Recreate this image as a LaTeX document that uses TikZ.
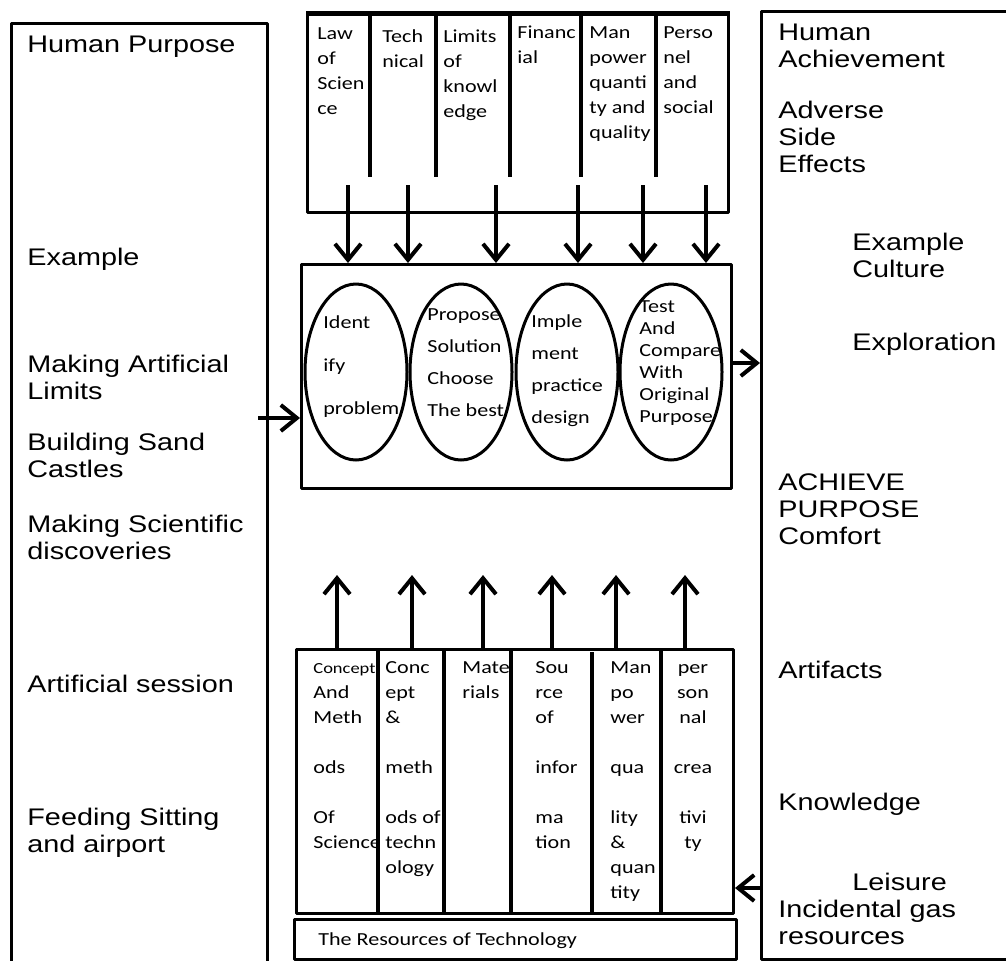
\documentclass[tikz,border=0pt]{standalone}
\usepackage{fontspec}
\setmainfont{Liberation Sans}[FakeStretch=1.2]
\newfontfamily\calfont{Carlito}[FakeStretch=1.2]
\usetikzlibrary{arrows.meta,shapes.geometric}
% rows of text hanging from the first baseline
\newcommand\txtcol[1]{\begin{tabular}[t]{@{}l@{}}#1\end{tabular}}
\newcommand\txtmid[1]{\begin{tabular}[t]{@{}c@{}}#1\end{tabular}}
\begin{document}
\begin{tikzpicture}[x=0.5pt,y=-0.5pt,line join=round,
	frame/.style={draw,line width=1.5pt,inner sep=0pt,anchor=north west},
	sidetext/.style={font=\fontsize{12}{13.5}\selectfont,anchor=base west,inner sep=0pt},
	celltext/.style={font=\calfont\fontsize{9.2}{#1}\selectfont,anchor=base west,inner sep=0pt},
	celltext/.default=12.5,
	arr/.style={line width=2pt,-{Straight Barb[length=8pt,width=13pt,line width=2pt]}},
	oval/.style={ellipse,draw,line width=1.5pt,minimum width=51pt,minimum height=88pt,inner sep=0pt}]
	\useasboundingbox (0,0) rectangle (1006,960);
	% outer frames
	\node[frame,minimum width=128pt,minimum height=490pt] (purpose) at (10,22) {};
	\node[frame,minimum width=130pt,minimum height=474pt] (achieve) at (760,10) {};
	% top box: limits
	\node[frame,minimum width=210.5pt,minimum height=99pt] (limits) at (306,13) {};
	\draw[line width=2.5pt] (limits.north west) -- ++(424,0);
	\foreach \x in {370,436,510,581,656}
		\draw[line width=2pt] (\x,13) -- (\x,177);
	\path (317,39) node[celltext] {\txtcol{Law\\of\\Scien\\ce}};
	\path (382,42) node[celltext] {\txtcol{Tech\\nical}};
	\path (443,42) node[celltext] {\txtcol{Limits\\of\\knowl\\edge}};
	\path (517,38) node[celltext] {\txtcol{Financ\\ial}};
	\path (589,38) node[celltext] {\txtcol{Man\\power\\quanti\\ty and\\quality}};
	\path (663,38) node[celltext] {\txtcol{Perso\\nel\\and\\social}};
	% middle box: steps
	\node[frame,minimum width=215pt,minimum height=112pt] (steps) at (300,263) {};
	\node[oval] (e1) at (356,372) {};
	\node[oval] (e2) at (461,372) {};
	\node[oval] (e3) at (567,372) {};
	\node[oval] (e4) at (671,372) {};
	\path (323,328) node[celltext=21.5] {\txtcol{Ident\\ify\\problem}};
	\path (427,320) node[celltext=16] {\txtcol{Propose\\Solution\\Choose\\The best}};
	\path (531,327) node[celltext=16] {\txtcol{Imple\\ment\\practice\\design}};
	\path (639,312) node[celltext=11] {\txtcol{Test\\And\\Compare\\With\\Original\\Purpose}};
	% bottom box: resources
	\node[frame,minimum width=218.5pt,minimum height=132pt] (resources) at (295,648) {};
	\foreach \x in {378,444,511,661}
		\draw[line width=2pt] (\x,648) -- (\x,912);
	\draw[line width=2pt] (592,652) -- (592,912);
	\path (313,673) node[celltext] {\txtcol{{\fontsize{7.7}{12.5}\selectfont Concept}\\And\\Meth\\~\\ods\\~\\Of\\Science}};
	\path (385,673) node[celltext] {\txtcol{Conc\\ept\\\&\\~\\meth\\~\\ods of\\techn\\ology}};
	\path (462,673) node[celltext] {\txtcol{Mate\\rials}};
	\path (535,673) node[celltext] {\txtcol{Sou\\rce\\of\\~\\infor\\~\\ma\\tion}};
	\path (610,673) node[celltext] {\txtcol{Man\\po\\wer\\~\\qua\\~\\lity\\\&\\quan\\tity}};
	\path (693,673) node[celltext,anchor=base] {\txtmid{per\\son\\nal\\~\\crea\\~\\tivi\\ty}};
	\node[frame,minimum width=221pt,minimum height=20pt] (techbox) at (293,918) {};
	\path (318,945) node[celltext] {The Resources of Technology};
	% arrows
	\foreach \x [count=\i] in {348,408,496,578,643,706}{
		\coordinate (d\i) at (\x,185);
		\draw[arr] (d\i) -- (d\i |- steps.north);}
	\foreach \x [count=\i] in {337,412,483,552,616,685}{
		\coordinate (u\i) at (\x,575);
		\draw[arr] (u\i |- resources.north) -- (u\i);}
	\coordinate (in) at (258,418);
	\draw[arr] (in) -- (in -| steps.west);
	\coordinate (out) at (730,363);
	\draw[arr] (out) -- (out -| achieve.west);
	\coordinate (back) at (760,888);
	\draw[arr] (back) -- (back -| resources.east);
	% left texts
	\path (27,52) node[sidetext] {Human Purpose};
	\path (27,265) node[sidetext] {Example};
	\path (27,372) node[sidetext] {\txtcol{Making Artificial\\Limits}};
	\path (27,450) node[sidetext] {\txtcol{Building Sand\\Castles}};
	\path (27,532) node[sidetext] {\txtcol{Making Scientific\\discoveries}};
	\path (27,692) node[sidetext] {Artificial session};
	\path (27,825) node[sidetext] {\txtcol{Feeding Sitting\\and airport}};
	% right texts
	\path (778,40) node[sidetext] {\txtcol{Human\\Achievement}};
	\path (778,118) node[sidetext] {\txtcol{Adverse\\Side\\Effects}};
	\path (852,250) node[sidetext] {\txtcol{Example\\Culture}};
	\path (852,350) node[sidetext] {Exploration};
	\path (778,490) node[sidetext] {\txtcol{ACHIEVE\\PURPOSE\\Comfort}};
	\path (778,678) node[sidetext] {Artifacts};
	\path (778,810) node[sidetext] {Knowledge};
	\path (852,890) node[sidetext] {Leisure};
	\path (778,917) node[sidetext] {\txtcol{Incidental gas\\resources}};
\end{tikzpicture}
\end{document}
